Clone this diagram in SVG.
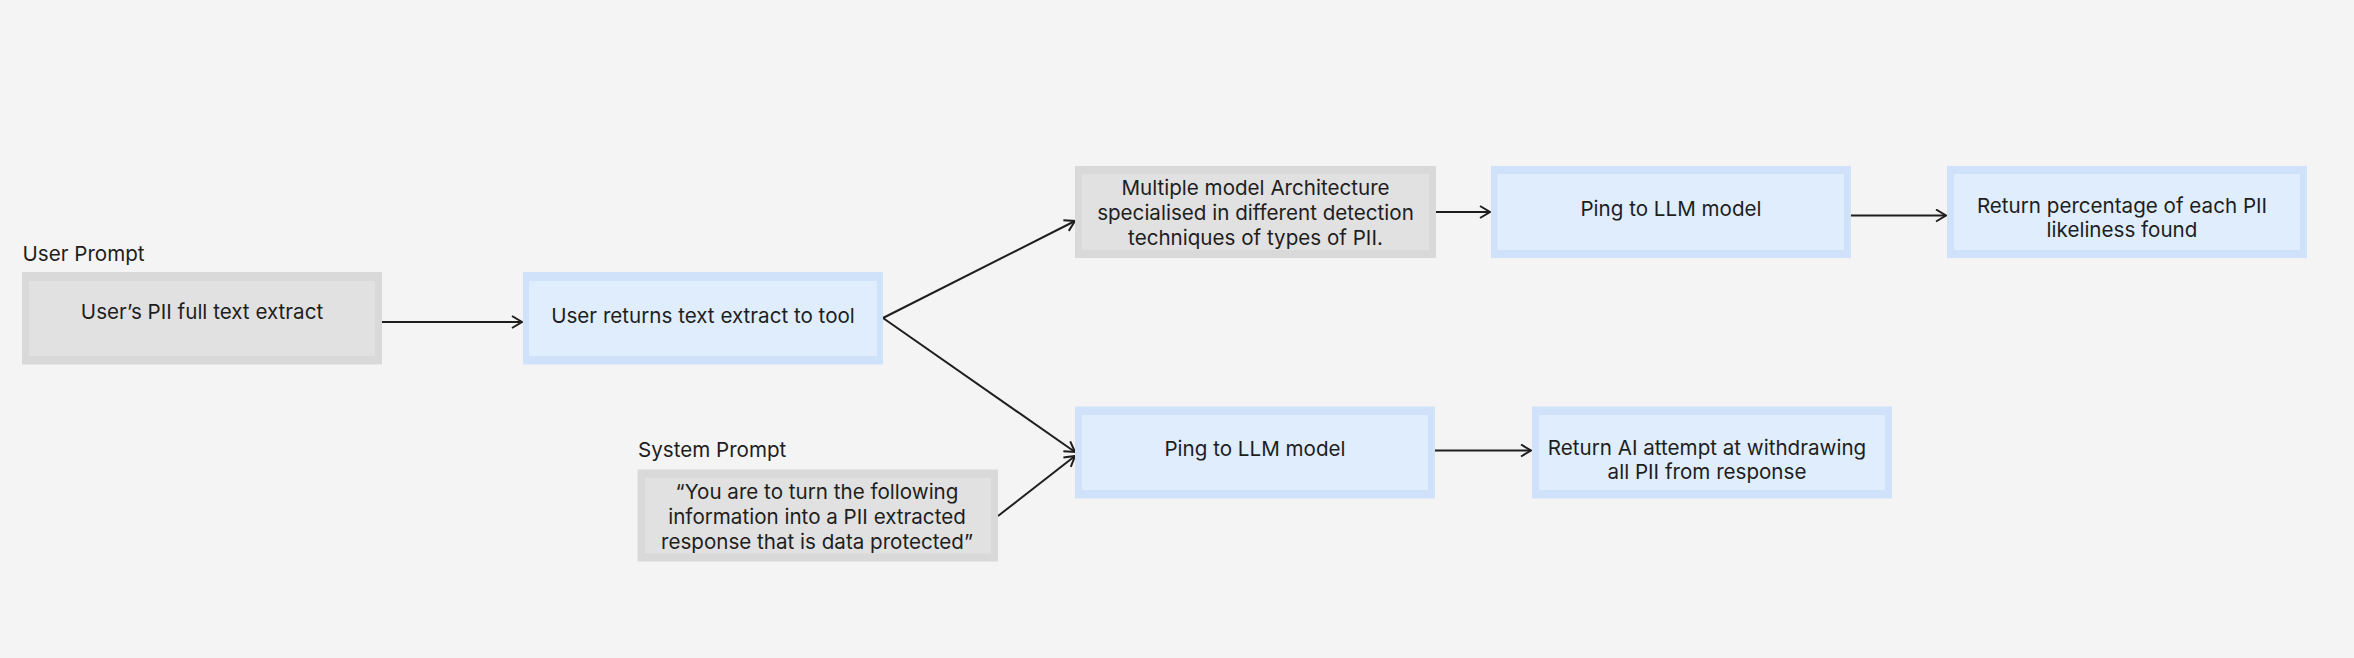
<svg xmlns="http://www.w3.org/2000/svg" width="2354" height="658" viewBox="0 0 2354 658">
<style>
.bg{fill:#f4f4f4}
.go{fill:#d9d9d9}.gi{fill:#e1e1e1}
.bo{fill:#cfe2fa}.bi{fill:#dfedfd}
text{font-family:Inter,"Noto Sans","Liberation Sans",sans-serif;font-size:20.6px;fill:#1e1e1e}
.c{text-anchor:middle}
.ln{fill:none;stroke:#1e1e1e;stroke-width:2}
</style>
<defs>
<marker id="ah" markerUnits="userSpaceOnUse" markerWidth="14" markerHeight="16" refX="11" refY="7" orient="auto">
<path d="M1,1 L11,7 L1,13" fill="none" stroke="#1e1e1e" stroke-width="2"/>
</marker>
</defs>
<rect class="bg" x="0" y="0" width="2354" height="658"/>
<g id="connectors">
<path class="ln" d="M382,322 L522,322" marker-end="url(#ah)"/>
<path class="ln" d="M883,318 L1075,221" marker-end="url(#ah)"/>
<path class="ln" d="M883,318 L1075,452" marker-end="url(#ah)"/>
<path class="ln" d="M998,516 L1075,456" marker-end="url(#ah)"/>
<path class="ln" d="M1436,212 L1490,212" marker-end="url(#ah)"/>
<path class="ln" d="M1851,215.5 L1946,215.5" marker-end="url(#ah)"/>
<path class="ln" d="M1435,450.5 L1531,450.5" marker-end="url(#ah)"/>
</g>
<g id="user-prompt">
<text x="22.5" y="260.5">User Prompt</text>
<rect class="go" x="22" y="272" width="360" height="92.5"/>
<rect class="gi" x="29" y="281" width="346" height="75"/>
<text class="c" x="202" y="318.5">User’s PII full text extract</text>
</g>
<g id="user-returns">
<rect class="bo" x="523" y="272" width="360" height="92.5"/>
<rect class="bi" x="529" y="281" width="348" height="75"/>
<text class="c" x="703" y="322.5">User returns text extract to tool</text>
</g>
<g id="multi-model">
<rect class="go" x="1075" y="166" width="361" height="92"/>
<rect class="gi" x="1082" y="174" width="347" height="76"/>
<text class="c" x="1255.5" y="195">Multiple model Architecture</text>
<text class="c" x="1255.5" y="220">specialised in different detection</text>
<text class="c" x="1255.5" y="245">techniques of types of PII.</text>
</g>
<g id="ping-top">
<rect class="bo" x="1491" y="166" width="360" height="92"/>
<rect class="bi" x="1497.5" y="174" width="346.5" height="76"/>
<text class="c" x="1671" y="216">Ping to LLM model</text>
</g>
<g id="return-percentage">
<rect class="bo" x="1947" y="166" width="360" height="92"/>
<rect class="bi" x="1954" y="174" width="346" height="76"/>
<text class="c" x="2122" y="212.5">Return percentage of each PII</text>
<text class="c" x="2122" y="237">likeliness found</text>
</g>
<g id="system-prompt">
<text x="638" y="456.5">System Prompt</text>
<rect class="go" x="637.5" y="469.5" width="360.5" height="92"/>
<rect class="gi" x="645" y="478" width="346" height="75.5"/>
<text class="c" x="817" y="498.5">“You are to turn the following</text>
<text class="c" x="817" y="523.5">information into a PII extracted</text>
<text class="c" x="817" y="548.5">response that is data protected”</text>
</g>
<g id="ping-bottom">
<rect class="bo" x="1075" y="406.5" width="360" height="92"/>
<rect class="bi" x="1082" y="415" width="346" height="75"/>
<text class="c" x="1255" y="456">Ping to LLM model</text>
</g>
<g id="return-ai">
<rect class="bo" x="1532" y="406.5" width="360" height="92"/>
<rect class="bi" x="1539" y="415" width="346" height="75"/>
<text class="c" x="1707" y="454.5">Return AI attempt at withdrawing</text>
<text class="c" x="1707" y="478.5">all PII from response</text>
</g>
</svg>
